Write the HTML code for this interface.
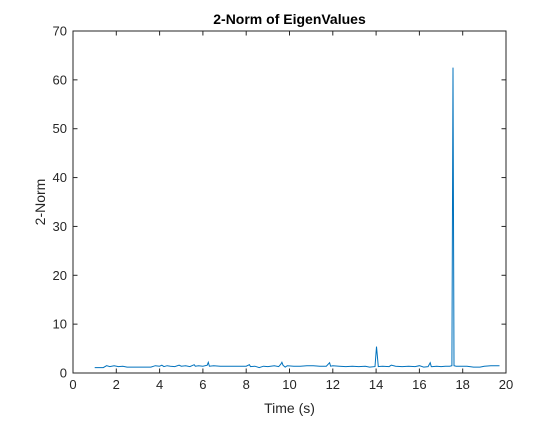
<!DOCTYPE html>
<html><head><meta charset="utf-8"><style>
body{margin:0;background:#fff;width:560px;height:420px;overflow:hidden;font-family:"Liberation Sans",sans-serif}
</style></head><body>
<svg width="560" height="420" xmlns="http://www.w3.org/2000/svg">
<rect width="560" height="420" fill="#fff"/>
<g id="g"></g>
</svg>
<script>
const times=[1.0,1.4,1.55,1.7,1.9,2.1,2.3,2.5,2.7,3.0,3.3,3.6,3.8,4.0,4.1,4.2,4.35,4.5,4.7,4.9,5.0,5.2,5.4,5.6,5.65,5.8,6.0,6.2,6.25,6.3,6.5,6.8,7.2,7.6,8.0,8.15,8.2,8.4,8.6,8.8,9.0,9.3,9.5,9.6,9.65,9.7,9.8,9.9,10.2,10.5,10.8,11.1,11.4,11.7,11.85,11.9,12.0,12.3,12.6,12.9,13.2,13.5,13.7,13.95,14.02,14.1,14.3,14.6,14.7,14.9,15.2,15.5,15.8,16.0,16.2,16.4,16.5,16.55,16.6,16.8,17.0,17.2,17.4,17.5,17.55,17.6,17.7,17.9,18.2,18.5,18.8,19.0,19.3,19.7];
const values=[1.1,1.1,1.5,1.3,1.5,1.3,1.4,1.2,1.2,1.2,1.2,1.2,1.5,1.4,1.6,1.3,1.5,1.4,1.3,1.6,1.4,1.5,1.3,1.7,1.4,1.5,1.4,1.6,2.2,1.4,1.5,1.4,1.4,1.4,1.4,1.7,1.3,1.4,1.1,1.4,1.3,1.5,1.3,1.8,2.2,1.6,1.2,1.5,1.4,1.4,1.5,1.5,1.4,1.4,2.1,1.4,1.5,1.4,1.3,1.4,1.3,1.4,1.2,1.3,5.4,1.3,1.4,1.3,1.6,1.4,1.3,1.4,1.3,1.5,1.2,1.3,2.1,1.3,1.3,1.4,1.3,1.4,1.4,1.5,62.5,1.5,1.4,1.4,1.4,1.2,1.2,1.4,1.5,1.5];
const xTicks=[0,2,4,6,8,10,12,14,16,18,20];
const yTicks=[0,10,20,30,40,50,60,70];
const L=73,R=506,T=31,B=373;
const X=v=>L+(v-0)/(20-0)*(R-L);
const Y=v=>B-(v-0)/(70-0)*(B-T);
const NS='http://www.w3.org/2000/svg';
const g=document.getElementById('g');
function mk(tag,at){const e=document.createElementNS(NS,tag);for(const k in at)e.setAttribute(k,at[k]);g.appendChild(e);return e;}
let box=mk('rect',{x:L,y:T,width:R-L,height:B-T,fill:'none',stroke:'#262626','stroke-width':1});


xTicks.forEach(t=>{
  const x=X(t);
  let l=mk('line',{x1:x,x2:x,y1:B,y2:B-4.5,stroke:'#262626'});
  
  
  mk('line',{x1:x,x2:x,y1:T,y2:T+4.5,stroke:'#262626'});
  let tx=mk('text',{x:x,y:B+16,'text-anchor':'middle','font-size':13,fill:'#262626'});
  tx.textContent=t;
  
  
});
yTicks.forEach(t=>{
  const y=Y(t);
  let l=mk('line',{x1:L,x2:L+4.5,y1:y,y2:y,stroke:'#262626'});
  
  
  mk('line',{x1:R,x2:R-4.5,y1:y,y2:y,stroke:'#262626'});
  let tx=mk('text',{x:L-6,y:y+4.5,'text-anchor':'end','font-size':13,fill:'#262626'});
  tx.textContent=t;
  
  
});
let d=times.map((t,i)=>(i?'L':'M')+X(t).toFixed(1)+' '+Y(values[i]).toFixed(1)).join(' ');
let p=mk('path',{d:d,fill:'none',stroke:'#0072BD','stroke-width':1});


let ti=mk('text',{x:(L+R)/2,y:24,'text-anchor':'middle','font-size':14,'font-weight':'bold',fill:'#000'});
ti.textContent='2-Norm of EigenValues';


let xl=mk('text',{x:(L+R)/2,y:413,'text-anchor':'middle','font-size':14,fill:'#262626'});
xl.textContent='Time (s)';


let yl=mk('text',{x:0,y:0,'text-anchor':'middle','font-size':14,fill:'#262626',transform:'translate(45,'+((T+B)/2)+') rotate(-90)'});
yl.textContent='2-Norm';


</script>
</body></html>
